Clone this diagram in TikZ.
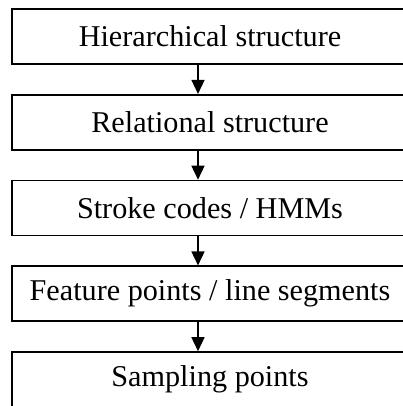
\documentclass[tikz,border=0pt]{standalone}
\usepackage{fontspec}
\setmainfont{Liberation Serif}
\usetikzlibrary{arrows.meta,calc}
\begin{document}
\begin{tikzpicture}[x=1pt,y=1pt,
  stagebox/.style={draw,line width=1.6pt,minimum width=396pt,minimum height=55pt,inner sep=0pt,
    font=\fontsize{30.2}{36}\selectfont,anchor=center},
  flowarrow/.style={line width=1.6pt,-{Triangle[length=14pt,width=13pt]}}]
\useasboundingbox (0,0) rectangle (403,406);
\clip (0,0) rectangle (403,406);
\node[stagebox] (h) at (210,369.5) {Hierarchical structure};
\node[stagebox] (r) at (210,283.75) {Relational structure};
\node[stagebox] (s) at (210,198) {Stroke codes / HMMs};
\node[stagebox] (f) at (210,112.25) {Feature points / line segments};
\node[stagebox] (p) at (210,26.5) {Sampling points};
\coordinate (ax) at (198,0);
\draw[flowarrow] (h.south -| ax) -- (r.north -| ax);
\draw[flowarrow] (r.south -| ax) -- (s.north -| ax);
\draw[flowarrow] (s.south -| ax) -- (f.north -| ax);
\draw[flowarrow] (f.south -| ax) -- (p.north -| ax);
\end{tikzpicture}
\end{document}
